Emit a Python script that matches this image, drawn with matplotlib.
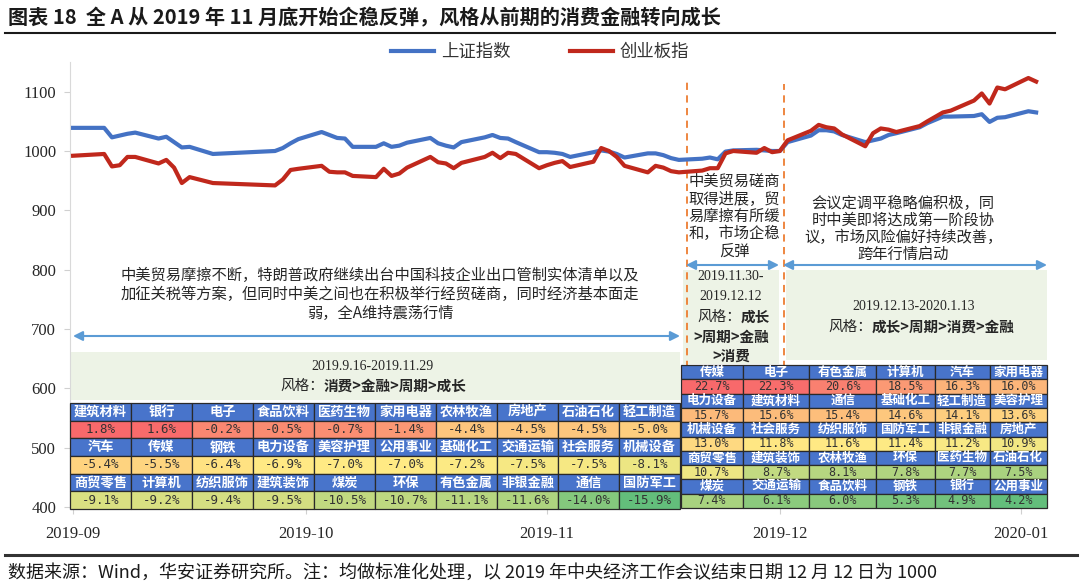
import matplotlib
matplotlib.use("Agg")
import matplotlib.pyplot as plt
import matplotlib.dates as mdates
import pandas as pd
from matplotlib.colors import LinearSegmentedColormap, TwoSlopeNorm
from matplotlib.lines import Line2D
from matplotlib.patches import Rectangle

plt.rcParams["font.family"] = ["Noto Sans CJK SC", "DejaVu Sans"]

# ---- series (normalised, 2019-12-12 = 1000) ----
dates = [
    "2019-09-12", "2019-09-16", "2019-09-17", "2019-09-18", "2019-09-19", "2019-09-20",
    "2019-09-23", "2019-09-24", "2019-09-25", "2019-09-26", "2019-09-27", "2019-09-30",
    "2019-10-08", "2019-10-09", "2019-10-10", "2019-10-11", "2019-10-14", "2019-10-15",
    "2019-10-16", "2019-10-17", "2019-10-18", "2019-10-21", "2019-10-22", "2019-10-23",
    "2019-10-24", "2019-10-25", "2019-10-28", "2019-10-29", "2019-10-30", "2019-10-31",
    "2019-11-01", "2019-11-04", "2019-11-05", "2019-11-06", "2019-11-07", "2019-11-08",
    "2019-11-11", "2019-11-12", "2019-11-13", "2019-11-14", "2019-11-15", "2019-11-18",
    "2019-11-19", "2019-11-20", "2019-11-21", "2019-11-22", "2019-11-25", "2019-11-26",
    "2019-11-27", "2019-11-28", "2019-11-29", "2019-12-02", "2019-12-03", "2019-12-04",
    "2019-12-05", "2019-12-06", "2019-12-09", "2019-12-10", "2019-12-11", "2019-12-12",
    "2019-12-13", "2019-12-16", "2019-12-17", "2019-12-18", "2019-12-19", "2019-12-20",
    "2019-12-23", "2019-12-24", "2019-12-25", "2019-12-26", "2019-12-27", "2019-12-30",
    "2019-12-31", "2020-01-02", "2020-01-03", "2020-01-06", "2020-01-07", "2020-01-08",
    "2020-01-09", "2020-01-10", "2020-01-13", "2020-01-14",
]
sh_index = [
    1039, 1039, 1023, 1026, 1029, 1031, 1021, 1024, 1015, 1006, 1007, 995,
    1000, 1005, 1013, 1020, 1032, 1027, 1022, 1021, 1007, 1007, 1013, 1007,
    1009, 1014, 1022, 1013, 1009, 1006, 1015, 1023, 1027, 1022, 1021, 1015,
    998, 998, 997, 995, 990, 998, 1001, 999, 995, 989, 996, 996,
    993, 988, 985, 987, 989, 986, 999, 1001, 1002, 1001, 1000, 1000,
    1015, 1026, 1035, 1035, 1033, 1027, 1015, 1018, 1021, 1027, 1030, 1040,
    1047, 1058, 1058, 1059, 1062, 1049, 1056, 1057, 1067, 1065,
]
cyb_index = [
    992, 995, 974, 976, 990, 990, 979, 985, 972, 946, 956, 946,
    942, 952, 968, 970, 975, 965, 964, 964, 958, 956, 970, 958,
    962, 972, 990, 981, 979, 971, 980, 990, 997, 988, 997, 995,
    971, 976, 980, 983, 973, 982, 1005, 1000, 990, 975, 964, 975,
    972, 966, 964, 967, 971, 971, 996, 1000, 997, 1005, 998, 1000,
    1018, 1034, 1044, 1040, 1038, 1028, 1008, 1030, 1038, 1036, 1032, 1042,
    1050, 1065, 1068, 1085, 1097, 1080, 1107, 1104, 1123, 1117,
]
series_names = ["上证指数", "创业板指"]

# ---- industry returns per period (%) ----
t1_names = [
    ["建筑材料", "银行", "电子", "食品饮料", "医药生物", "家用电器", "农林牧渔", "房地产", "石油石化", "轻工制造"],
    ["汽车", "传媒", "钢铁", "电力设备", "美容护理", "公用事业", "基础化工", "交通运输", "社会服务", "机械设备"],
    ["商贸零售", "计算机", "纺织服饰", "建筑装饰", "煤炭", "环保", "有色金属", "非银金融", "通信", "国防军工"],
]
t1_values = [
    [1.8, 1.6, -0.2, -0.5, -0.7, -1.4, -4.4, -4.5, -4.5, -5.0],
    [-5.4, -5.5, -6.4, -6.9, -7.0, -7.0, -7.2, -7.5, -7.5, -8.1],
    [-9.1, -9.2, -9.4, -9.5, -10.5, -10.7, -11.1, -11.6, -14.0, -15.9],
]
t2_names = [
    ["传媒", "电子", "有色金属", "计算机", "汽车", "家用电器"],
    ["电力设备", "建筑材料", "通信", "基础化工", "轻工制造", "美容护理"],
    ["机械设备", "社会服务", "纺织服饰", "国防军工", "非银金融", "房地产"],
    ["商贸零售", "建筑装饰", "农林牧渔", "环保", "医药生物", "石油石化"],
    ["煤炭", "交通运输", "食品饮料", "钢铁", "银行", "公用事业"],
]
t2_values = [
    [22.7, 22.3, 20.6, 18.5, 16.3, 16.0],
    [15.7, 15.6, 15.4, 14.6, 14.1, 13.6],
    [13.0, 11.8, 11.6, 11.4, 11.2, 10.9],
    [10.7, 8.7, 8.1, 7.8, 7.7, 7.5],
    [7.4, 6.1, 6.0, 5.3, 4.9, 4.2],
]

BLUE = "#4472C4"
RED = "#C0281C"
ORANGE = "#ED7D31"
ARROW = "#5B9BD5"
PALE = "#EDF3E6"
HEAD = "#4874CB"
SERIF = "Liberation Serif"

W, H = 1080, 586
AX_L, AX_R, AX_T, AX_B = 70, 1047, 62, 507


def axf(px, py):
    return ((px - AX_L) / (AX_R - AX_L), (AX_B - py) / (AX_B - AX_T))


fig = plt.figure(figsize=(W / 100, H / 100), dpi=100)
ax = fig.add_axes([AX_L / W, 1 - AX_B / H, (AX_R - AX_L) / W, (AX_B - AX_T) / H])

x = pd.to_datetime(dates)
ax.plot(x, sh_index, color=BLUE, lw=3, label=series_names[0], zorder=6, solid_joinstyle="round")
ax.plot(x, cyb_index, color=RED, lw=3, label=series_names[1], zorder=7, solid_joinstyle="round")

t0 = mdates.date2num(x[0])
ax.set_xlim(t0 - 0.4, t0 + 125.4)
ax.set_ylim(400, 1150)
ax.set_yticks(range(400, 1101, 100))
ax.set_xticks(pd.to_datetime(["2019-09-12", "2019-10-12", "2019-11-12", "2019-12-12", "2020-01-12"]))
ax.xaxis.set_major_formatter(mdates.DateFormatter("%Y-%m"))
for lab in ax.get_xticklabels() + ax.get_yticklabels():
    lab.set_fontfamily(SERIF)
    lab.set_fontsize(12)
    lab.set_color("#262626")
ax.tick_params(axis="y", length=4, color="#D0D0D0", pad=6)
ax.tick_params(axis="x", length=5, color="#D0D0D0", pad=9)
for side in ["top", "right"]:
    ax.spines[side].set_visible(False)
ax.spines["left"].set_color("#D9D9D9")
ax.spines["bottom"].set_color("#D9D9D9")

# period separators
for d, ytop in [("2019-11-30", 1121), ("2019-12-12 14:00", 1113)]:
    xd = pd.Timestamp(d)
    ax.plot([xd, xd], [400, ytop], color=ORANGE, lw=1.3, ls=(0, (4, 3)), zorder=2)

# pale boxes
for (x1, y1, x2, y2) in [(70, 352, 680, 400), (683, 270, 779, 364), (786, 270, 1047, 360)]:
    a, b = axf(x1, y2)
    c, d = axf(x2, y1)
    ax.add_patch(Rectangle((a, b), c - a, d - b, transform=ax.transAxes,
                           facecolor=PALE, edgecolor="none", zorder=1, clip_on=False))

# arrows
for (x1, x2, yy) in [(73, 680, 336), (686, 779, 265), (783, 1047, 265)]:
    ax.annotate("", xy=axf(x2, yy), xytext=axf(x1, yy), xycoords="axes fraction",
                arrowprops=dict(arrowstyle="<|-|>", color=ARROW, lw=1.5,
                                mutation_scale=14, shrinkA=0, shrinkB=0),
                annotation_clip=False, zorder=3)


def put(px, py, s, size=11, ha="center", weight="normal", family=None, color="#262626"):
    kw = {}
    if family:
        kw["family"] = family
    ax.text(*axf(px, py), s, transform=ax.transAxes, ha=ha, va="center", fontsize=size,
            fontweight=weight, color=color, zorder=4, **kw)


# period narratives
for s, yy in zip(["中美贸易摩擦不断，特朗普政府继续出台中国科技企业出口管制实体清单以及",
                  "加征关税等方案，但同时中美之间也在积极举行经贸磋商，同时经济基本面走",
                  "弱，全A维持震荡行情"], [275, 294, 313]):
    put(380, yy, s)
for s, yy in zip(["中美贸易磋商", "取得进展，贸", "易摩擦有所缓", "和，市场企稳", "反弹"],
                 [181, 199, 216, 233, 251]):
    put(734, yy, s)
for s, yy in zip(["会议定调平稳略偏积极，同", "时中美即将达成第一阶段协",
                  "议，市场风险偏好持续改善，", "跨年行情启动"], [203, 220, 237, 254]):
    put(903, yy, s)

put(372, 367, "2019.9.16-2019.11.29", size=10, family=SERIF)
put(324, 386, "风格：", size=10.5, ha="right")
put(324, 386, "消费>金融>周期>成长", size=10.5, ha="left", weight="bold")

put(731, 277, "2019.11.30-", size=10, family=SERIF)
put(731, 297, "2019.12.12", size=10, family=SERIF)
put(741, 317, "风格：", size=10.5, ha="right")
put(741, 317, "成长", size=10.5, ha="left", weight="bold")
put(731, 337, ">周期>金融", size=10.5, weight="bold")
put(731, 356, ">消费", size=10.5, weight="bold")

put(914, 306, "2019.12.13-2020.1.13", size=10, family=SERIF)
put(872, 327, "风格：", size=10.5, ha="right")
put(872, 327, "成长>周期>消费>金融", size=10.5, ha="left", weight="bold")

# heat tables
heat = LinearSegmentedColormap.from_list("heat", ["#63BE7B", "#FFEB84", "#F8696B"])


def heat_table(names, values, px1, py1, px2, py2, col_w, fs):
    flat = sorted(v for row in values for v in row)
    n = len(flat)
    med = (flat[(n - 1) // 2] + flat[n // 2]) / 2
    norm = TwoSlopeNorm(vmin=flat[0], vcenter=med, vmax=flat[-1])
    text, colours, kinds = [], [], []
    for nr, vr in zip(names, values):
        text.append(nr)
        colours.append([HEAD] * len(nr))
        kinds.append("name")
        text.append([f"{v:.1f}%" for v in vr])
        colours.append([heat(norm(v)) for v in vr])
        kinds.append("value")
    a, b = axf(px1, py2)
    c, d = axf(px2, py1)
    tbl = ax.table(cellText=text, cellColours=colours, cellLoc="center",
                   colWidths=col_w, bbox=[a, b, c - a, d - b])
    tbl.auto_set_font_size(False)
    tbl.set_zorder(5)
    for (r, cc), cell in tbl.get_celld().items():
        cell.set_edgecolor("#2A2A2A")
        cell.set_linewidth(0.9)
        t = cell.get_text()
        if kinds[r] == "name":
            t.set_color("white")
            t.set_fontweight("bold")
            t.set_fontsize(fs)
        else:
            t.set_color("#333333")
            t.set_fontfamily("DejaVu Sans Mono")
            t.set_fontsize(fs - 0.5)
    return tbl


heat_table(t1_names, t1_values, 70, 403, 680, 509, [1] * 10, 9.5)
heat_table(t2_names, t2_values, 681, 365, 1047, 508, [185, 200, 200, 175, 165, 172], 9)

# legend
fig.legend(loc="center", bbox_to_anchor=(540 / W, 1 - 52 / H), ncol=2, frameon=False,
           fontsize=12.5, handlelength=2.5, handletextpad=0.4, columnspacing=3.4,
           labelcolor="#333333")

# title / footer
fig.text(8 / W, 1 - 18 / H, "图表 18  全 A 从 2019 年 11 月底开始企稳反弹，风格从前期的消费金融转向成长",
         fontsize=14.5, fontweight="bold", va="center", ha="left", color="#1a1a1a")
fig.add_artist(Line2D([5 / W, 1055 / W], [1 - 33 / H] * 2, color="#1a1a1a", lw=1.5))
fig.add_artist(Line2D([5 / W, 1077 / W], [1 - 555 / H] * 2, color="#333333", lw=2.2))
fig.text(8 / W, 1 - 573 / H,
         "数据来源：Wind，华安证券研究所。注：均做标准化处理，以 2019 年中央经济工作会议结束日期 12 月 12 日为 1000",
         fontsize=13, va="center", ha="left", color="#1a1a1a")

fig.savefig("out.png", dpi=100)
